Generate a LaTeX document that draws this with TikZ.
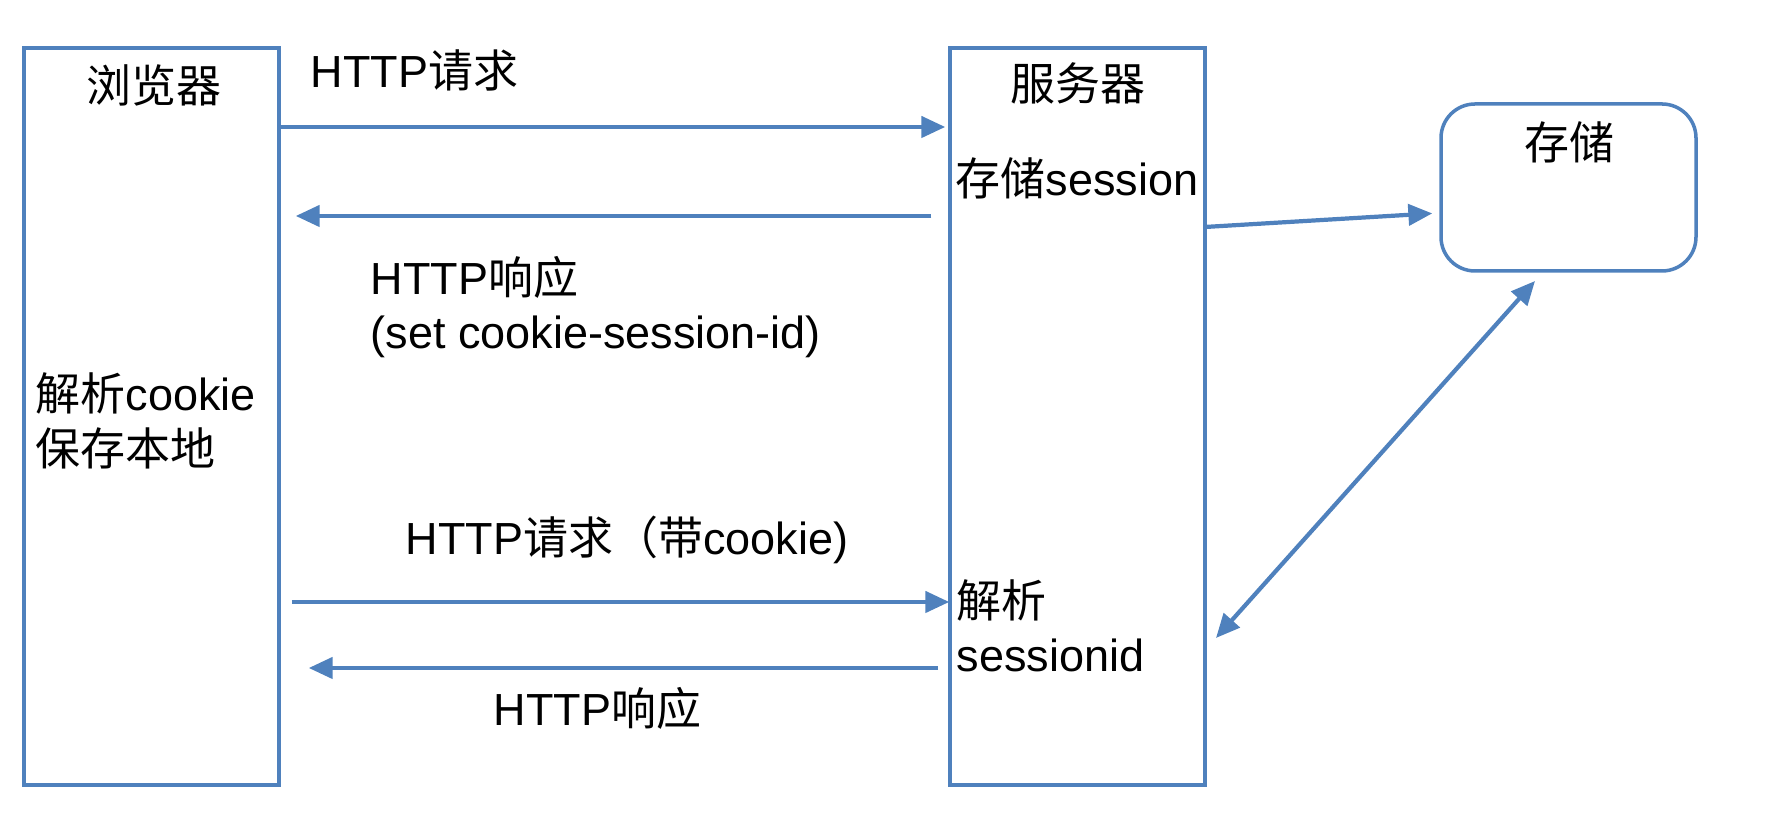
\documentclass[tikz,border=0pt]{standalone}
\usepackage{fontspec}
\setmainfont{Liberation Sans}
\newfontfamily\cjk{Noto Sans CJK SC}
\newcommand{\zh}[1]{{\cjk #1}}
\usetikzlibrary{arrows.meta, positioning}
\definecolor{lineblue}{HTML}{4F81BD}

\begin{document}
\begin{tikzpicture}[
    box/.style={draw=lineblue, line width=1pt, minimum width=2.55cm},
    flow/.style={draw=lineblue, line width=1.2pt, -{Triangle[length=6.8pt, width=6pt]}},
    txt/.style={font=\fontsize{12.8}{15.5}\selectfont, inner sep=0pt, align=left}
]
\useasboundingbox (0,0) rectangle (17.66,8.29);

% Boxes
\node[box, minimum height=7.37cm] (browser) at (1.515,4.125) {};
\node[box, minimum height=7.37cm] (server) at (10.775,4.125) {};
\node[box, minimum height=1.67cm, rounded corners=0.34cm] (storage) at (15.685,6.415) {};

% Box titles
\node[txt] (browsertitle) at (1.54,7.44) {\zh{浏览器}};
\node[txt] (servertitle) at (10.78,7.46) {\zh{服务器}};
\node[txt] (storagetitle) at (15.69,6.87) {\zh{存储}};

% Notes inside boxes
\node[txt, anchor=west] (savesession) at (9.55,6.51) {\zh{存储}session};
\node[txt, anchor=west] (parsecookie) at (0.35,4.08) {\zh{解析}cookie\\\zh{保存本地}};
\node[txt, anchor=west] (parsesid) at (9.56,2.03) {\zh{解析}\\sessionid};

% Arrow rows
\coordinate (row1) at (0,7.02);
\coordinate (row2) at (0,6.13);
\coordinate (row3) at (0,2.27);
\coordinate (row4) at (0,1.61);

% Browser <-> server
\draw[flow, shorten >=0.03cm] (browser.east |- row1) -- (server.west |- row1);
\draw[flow, shorten <=0.17cm, shorten >=0.15cm] (server.west |- row2) -- (browser.east |- row2);
\draw[flow, shorten <=0.11cm, shorten >=-0.01cm] (browser.east |- row3) -- (server.west |- row3);
\draw[flow, shorten <=0.10cm, shorten >=0.28cm] (server.west |- row4) -- (browser.east |- row4);

% Arrow labels
\node[txt, anchor=west] (req1) at (3.10,7.59) {HTTP\zh{请求}};
\node[txt, anchor=west] (resp1) at (3.70,5.22) {HTTP\zh{响应}\\(set cookie-session-id)};
\node[txt, anchor=west] (req2) at (4.05,2.89) {HTTP\zh{请求（带}cookie)};
\node[txt, anchor=west] (resp2) at (4.93,1.21) {HTTP\zh{响应}};

% Server <-> storage
\coordinate (storein) at (12.05,6.02);
\coordinate (sidin) at (12.16,1.91);
\coordinate (sidout) at (15.35,5.48);
\draw[flow, shorten >=0.07cm] (storein) -- (storage.west |- 0,6.16);
\draw[flow, {Triangle[length=6.8pt, width=6pt]}-{Triangle[length=6.8pt, width=6pt]}] (sidin) -- (sidout);

\end{tikzpicture}
\end{document}
